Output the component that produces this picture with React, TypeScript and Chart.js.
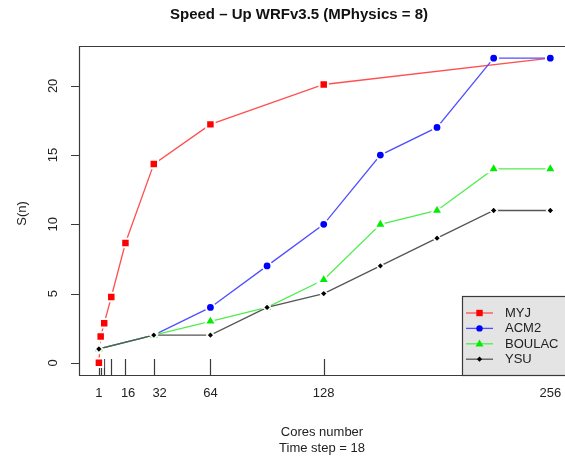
import React, { useEffect, useRef } from "react";
import { Chart, registerables } from "chart.js";

Chart.register(...registerables);

// ---- data ----
const myjCores = [1, 2, 4, 8, 16, 32, 64, 128, 256];
const myjSpeedup = [0, 1.9, 2.85, 4.75, 8.65, 14.35, 17.22, 20.1, 22];
const otherCores = [1, 32, 64, 96, 128, 160, 192, 224, 256];
const acm2Speedup = [1, 2, 4, 7, 10, 15, 17, 22, 22];
const boulacSpeedup = [1, 2, 3, 4, 6, 10, 11, 14, 14];
const ysuSpeedup = [1, 2, 2, 4, 5, 7, 9, 11, 11];

const xTickValues = [1, 2, 4, 8, 16, 32, 64, 128, 256];
const xLabelTexts = ["1", "16", "32", "64", "128", "256"];
const xLabelValues = [1, 17.5, 35.3, 64, 128, 256];
const yTickValues = [0, 5, 10, 15, 20];
const yLabelTexts = ["0", "5", "10", "15", "20"];

const seriesNames = ["MYJ", "ACM2", "BOULAC", "YSU"];
const lineColors = ["#ff4f4f", "#4f4fff", "#4fee4f", "#555555"];
const markerColors = ["#ff0000", "#0000ff", "#00ee00", "#000000"];
const markerStyles = ["rect", "circle", "triangle", "rectRot"];

const titleText = "Speed \u2013 Up WRFv3.5 (MPhysics = 8)";
const xTitleLines = ["Cores number", "Time step = 18"];
const yTitleText = "S(n)";

const FONT = '"Liberation Sans", Arial, Helvetica, sans-serif';

function toPoints(xs: number[], ys: number[]) {
  return xs.map((x, i) => ({ x, y: ys[i] }));
}

function drawMarker(ctx: CanvasRenderingContext2D, style: string, x: number, y: number, color: string) {
  ctx.save();
  ctx.fillStyle = color;
  ctx.beginPath();
  if (style === "rect") {
    ctx.rect(x - 3.2, y - 3.2, 6.4, 6.4);
  } else if (style === "circle") {
    ctx.arc(x, y, 3.2, 0, Math.PI * 2);
  } else if (style === "triangle") {
    ctx.moveTo(x, y - 4.3);
    ctx.lineTo(x + 4, y + 2.7);
    ctx.lineTo(x - 4, y + 2.7);
    ctx.closePath();
  } else {
    ctx.moveTo(x, y - 2.6);
    ctx.lineTo(x + 2.6, y);
    ctx.lineTo(x, y + 2.6);
    ctx.lineTo(x - 2.6, y);
    ctx.closePath();
  }
  ctx.fill();
  ctx.restore();
}

const rAxesPlugin = {
  id: "rAxes",
  beforeDatasetsDraw(chart: any) {
    const { ctx, chartArea, scales } = chart;
    const { left, top, right, bottom } = chartArea;
    const x = scales.x;
    const y = scales.y;
    ctx.save();
    ctx.strokeStyle = "#3a3a3a";
    ctx.lineWidth = 1.2;
    // box (right side is beyond the visible canvas)
    ctx.beginPath();
    ctx.moveTo(right + 5, top + 0.5);
    ctx.lineTo(left + 0.5, top + 0.5);
    ctx.lineTo(left + 0.5, bottom + 0.5);
    ctx.lineTo(right + 5, bottom + 0.5);
    ctx.stroke();

    // x ticks (pointing inward)
    ctx.beginPath();
    xTickValues.forEach((v) => {
      const px = Math.round(x.getPixelForValue(v)) + 0.5;
      ctx.moveTo(px, bottom);
      ctx.lineTo(px, bottom - 16);
    });
    // y ticks (outward)
    yTickValues.forEach((v) => {
      const py = Math.round(y.getPixelForValue(v)) + 0.5;
      ctx.moveTo(left - 8, py);
      ctx.lineTo(left, py);
    });
    ctx.stroke();

    // x labels
    ctx.fillStyle = "#222";
    ctx.font = `13px ${FONT}`;
    ctx.textAlign = "center";
    ctx.textBaseline = "middle";
    xLabelValues.forEach((v, i) => {
      ctx.fillText(xLabelTexts[i], x.getPixelForValue(v), 393);
    });

    // y labels rotated
    yTickValues.forEach((v, i) => {
      const py = y.getPixelForValue(v);
      ctx.save();
      ctx.translate(53, py);
      ctx.rotate(-Math.PI / 2);
      ctx.textAlign = "center";
      ctx.textBaseline = "middle";
      ctx.fillText(yLabelTexts[i], 0, 0);
      ctx.restore();
    });

    // axis titles
    const cx = 322;
    ctx.fillText(xTitleLines[0], cx, 432);
    ctx.fillText(xTitleLines[1], cx, 448);

    ctx.save();
    ctx.translate(22, (top + bottom) / 2 + 3);
    ctx.rotate(-Math.PI / 2);
    ctx.fillText(yTitleText, 0, 0);
    ctx.restore();

    // title
    ctx.font = `bold 15px ${FONT}`;
    ctx.fillStyle = "#111";
    ctx.fillText(titleText, 299, 15);
    ctx.restore();
  },
  afterDraw(chart: any) {
    const { ctx, chartArea } = chart;
    const { bottom, right } = chartArea;
    const lx = 462;
    const ly = 296;
    ctx.save();
    ctx.fillStyle = "#e4e4e4";
    ctx.fillRect(lx, ly, right + 10 - lx, bottom - ly);
    ctx.strokeStyle = "#3a3a3a";
    ctx.lineWidth = 1.2;
    ctx.strokeRect(lx + 0.5, ly + 0.5, right + 10 - lx, bottom - ly);
    ctx.font = `13px ${FONT}`;
    ctx.textAlign = "left";
    ctx.textBaseline = "middle";
    seriesNames.forEach((name, i) => {
      const ry = 313 + i * 15.4;
      ctx.strokeStyle = lineColors[i];
      ctx.lineWidth = 1.3;
      ctx.beginPath();
      ctx.moveTo(466, ry);
      ctx.lineTo(493, ry);
      ctx.stroke();
      drawMarker(ctx, markerStyles[i], 479.5, ry, markerColors[i]);
      ctx.fillStyle = "#222";
      ctx.fillText(name, 505, ry + 0.5);
    });
    ctx.restore();
  },
};

export default function App() {
  const canvasRef = useRef<HTMLCanvasElement | null>(null);

  useEffect(() => {
    if (!canvasRef.current) return;
    const common = {
      showLine: true,
      borderWidth: 1.3,
      pointBorderColor: "#ffffff",
      pointHoverRadius: 0,
      clip: false as any,
    };
    const chart = new Chart(canvasRef.current, {
      type: "scatter",
      data: {
        datasets: [
          {
            ...common,
            label: seriesNames[0],
            data: toPoints(myjCores, myjSpeedup),
            borderColor: lineColors[0],
            pointBackgroundColor: markerColors[0],
            pointStyle: "rect",
            pointRadius: 6,
            pointBorderWidth: 2,
            order: 4,
          },
          {
            ...common,
            label: seriesNames[1],
            data: toPoints(otherCores, acm2Speedup),
            borderColor: lineColors[1],
            pointBackgroundColor: markerColors[1],
            pointStyle: "circle",
            pointRadius: 4.4,
            pointBorderWidth: 2,
            order: 3,
          },
          {
            ...common,
            label: seriesNames[2],
            data: toPoints(otherCores, boulacSpeedup),
            borderColor: lineColors[2],
            pointBackgroundColor: markerColors[2],
            pointStyle: "triangle",
            pointRadius: 6.6,
            pointBorderWidth: 2,
            order: 2,
          },
          {
            ...common,
            label: seriesNames[3],
            data: toPoints(otherCores, ysuSpeedup),
            borderColor: lineColors[3],
            pointBackgroundColor: markerColors[3],
            pointStyle: "rectRot",
            pointRadius: 3.7,
            pointBorderWidth: 1.5,
            order: 1,
          },
        ],
      },
      options: {
        responsive: false,
        animation: false,
        devicePixelRatio: 1,
        layout: { autoPadding: false, padding: { left: 79, top: 46, right: 0, bottom: 81 } },
        scales: {
          x: { type: "linear", min: -10.24, max: 264.3, display: false },
          y: { type: "linear", min: -0.88, max: 22.88, display: false },
        },
        plugins: {
          legend: { display: false },
          title: { display: false },
          tooltip: { enabled: false },
        },
        events: [],
      },
      plugins: [rAxesPlugin],
    });
    return () => chart.destroy();
  }, []);

  return (
    <div style={{ position: "absolute", left: 0, top: 0, width: 565, height: 456, background: "#fff" }}>
      <canvas ref={canvasRef} width={565} height={456} style={{ display: "block" }} />
    </div>
  );
}
